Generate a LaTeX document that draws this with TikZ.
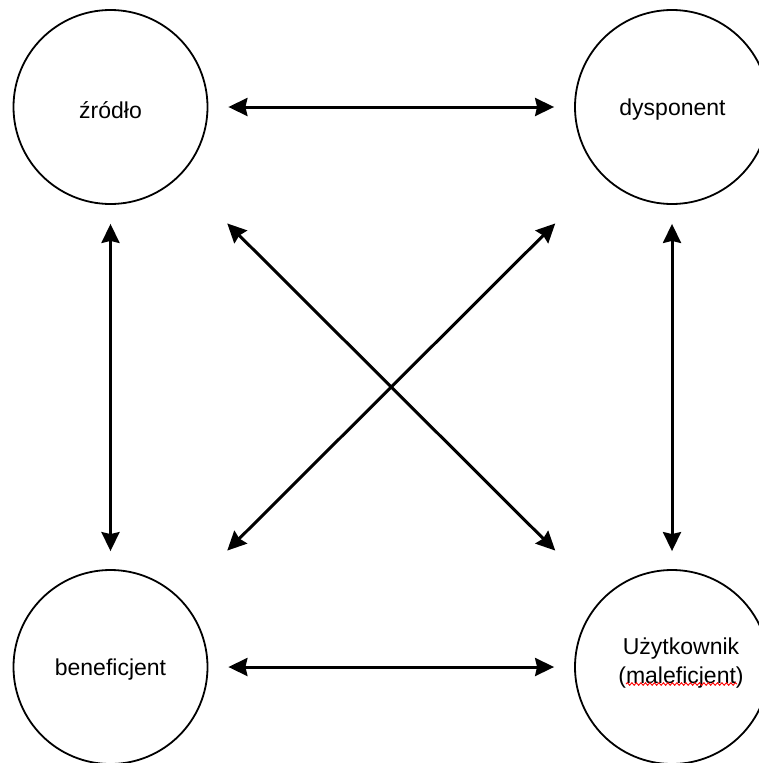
\documentclass[tikz,border=0pt]{standalone}
\usepackage{fontspec}
\setmainfont{Liberation Sans}
\usetikzlibrary{arrows.meta,decorations.pathmorphing}
\tikzset{
  role/.style={circle,draw=black,line width=1.8pt,minimum size=194pt,inner sep=0pt},
  txt/.style={font=\fontsize{23}{29}\selectfont,align=center,inner sep=0pt},
  link/.style={line width=3pt,{Stealth[length=19pt,width=18pt,inset=2pt]}-{Stealth[length=19pt,width=18pt,inset=2pt]}},
  squiggle/.style={red,line width=0.9pt,decorate,decoration={snake,segment length=4.5pt,amplitude=1.3pt}}
}
\begin{document}
\begin{tikzpicture}[x=1pt,y=-1pt]
\useasboundingbox (0,0) rectangle (759,763);
\node[role] (tl) at (110.5,107) {};
\node[role] (tr) at (672,107) {};
\node[role] (bl) at (110.5,667) {};
\node[role] (br) at (672,667) {};
\node[txt] (tlt) at (110.5,110) {źródło};
\node[txt] (trt) at (672.5,110) {dysponent};
\node[txt] (blt) at (110.5,670) {beneficjent};
\node[txt] (brt) at (681,663.5) {Użytkownik\\(maleficjent)};
\coordinate (sqa) at (626,684);
\coordinate (sqb) at (737,684);
\draw[squiggle] (sqa) -- (sqb);
\draw[link,shorten <=20pt,shorten >=20pt] (tl) -- (tr);
\draw[link,shorten <=20pt,shorten >=20pt] (bl) -- (br);
\draw[link,shorten <=19pt,shorten >=18pt] (tl) -- (bl);
\draw[link,shorten <=19pt,shorten >=18pt] (tr) -- (br);
\draw[link,shorten <=67pt,shorten >=67pt] (tl) -- (br);
\draw[link,shorten <=67pt,shorten >=67pt] (tr) -- (bl);
\end{tikzpicture}
\end{document}
